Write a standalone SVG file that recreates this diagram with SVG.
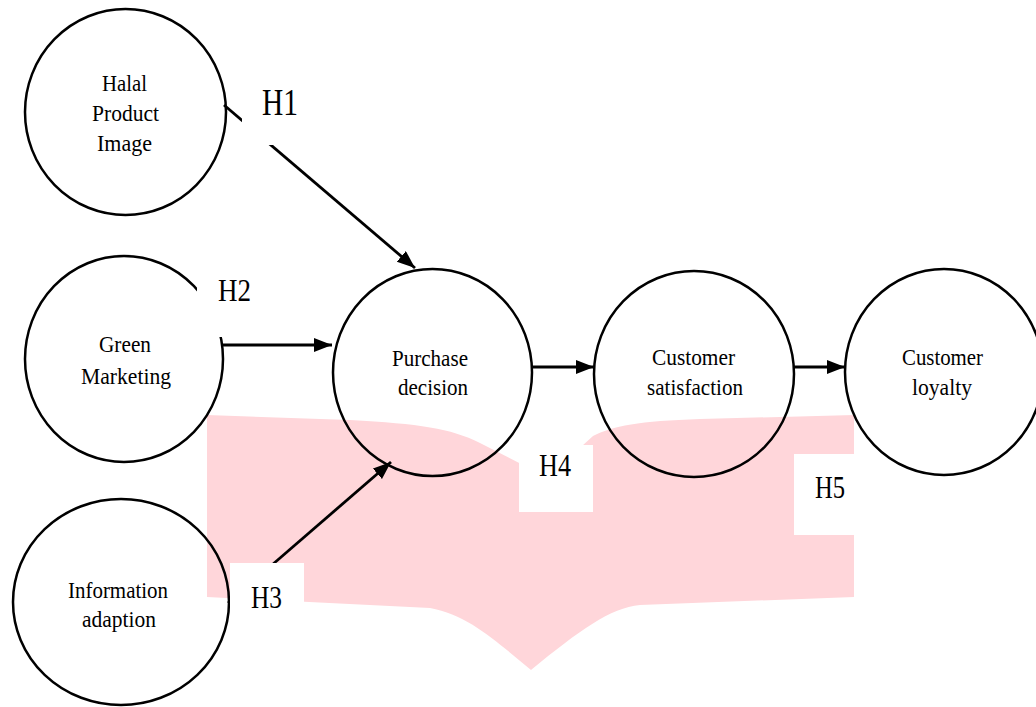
<svg xmlns="http://www.w3.org/2000/svg" width="1036" height="707" viewBox="0 0 1036 707">
<defs>
<marker id="ah" markerUnits="userSpaceOnUse" markerWidth="20" markerHeight="16" refX="18" refY="7" orient="auto">
<path d="M0,0 L18,7 L0,14 Z" fill="#000"/>
</marker>
<style>
.node{fill:none;stroke:#000;stroke-width:2.5}
.lbl{font-family:"Liberation Serif","Times New Roman",serif;font-size:24px;fill:#000;text-anchor:middle}
.h{font-family:"Liberation Serif","Times New Roman",serif;font-size:31px;fill:#000}
.edge{stroke:#000;stroke-width:2.8;fill:none}
.box{fill:#fff;stroke:none}
</style>
</defs>
<rect width="1036" height="707" fill="#fff"/>
<path id="band" d="M207,415 L350,420 C420,424 450,428 480,443 L525,466 L560,466 L593,436 C612,426 640,421 700,419 L854,415 L854,597 L640,605 C610,608 580,630 531,670 C500,645 470,615 430,608 L207,597 Z" fill="#FFD6DA"/>
<g id="node-halal"><ellipse class="node" cx="125.5" cy="112" rx="100.5" ry="103"/></g>
<g id="node-green"><ellipse class="node" cx="124" cy="359" rx="99" ry="103"/></g>
<g id="node-info"><ellipse class="node" cx="121" cy="602" rx="108" ry="103"/></g>
<g id="node-purchase"><ellipse class="node" cx="432.5" cy="372.5" rx="99.5" ry="103.5"/></g>
<g id="node-satisfaction"><ellipse class="node" cx="694" cy="374" rx="100" ry="103"/></g>
<g id="node-loyalty"><ellipse class="node" cx="944" cy="372" rx="99" ry="103"/></g>
<g id="connectors">
<line class="edge" x1="224" y1="105" x2="415" y2="268" marker-end="url(#ah)"/>
<line class="edge" x1="223" y1="345" x2="332" y2="345" marker-end="url(#ah)"/>
<line class="edge" x1="228" y1="603" x2="391" y2="462" marker-end="url(#ah)"/>
<line class="edge" x1="532" y1="367" x2="594" y2="367" marker-end="url(#ah)"/>
<line class="edge" x1="794" y1="367" x2="845" y2="367" marker-end="url(#ah)"/>
</g>
<g id="label-boxes">
<rect class="box" x="242" y="65" width="90" height="80"/>
<rect class="box" x="197" y="255" width="75" height="82"/>
<rect class="box" x="230" y="563" width="74" height="82"/>
<rect class="box" x="519" y="445" width="74" height="67"/>
<rect class="box" x="794" y="454" width="60" height="81"/>
</g>
<g id="node-texts">
<text class="lbl" x="124.5" y="91" textLength="45" lengthAdjust="spacingAndGlyphs">Halal</text>
<text class="lbl" x="125.5" y="121" textLength="67" lengthAdjust="spacingAndGlyphs">Product</text>
<text class="lbl" x="124.5" y="151" textLength="55" lengthAdjust="spacingAndGlyphs">Image</text>
<text class="lbl" x="125" y="352" textLength="52" lengthAdjust="spacingAndGlyphs">Green</text>
<text class="lbl" x="126" y="384" textLength="90" lengthAdjust="spacingAndGlyphs">Marketing</text>
<text class="lbl" x="118" y="598" textLength="100" lengthAdjust="spacingAndGlyphs">Information</text>
<text class="lbl" x="119" y="627" textLength="74" lengthAdjust="spacingAndGlyphs">adaption</text>
<text class="lbl" x="430" y="366" textLength="76" lengthAdjust="spacingAndGlyphs">Purchase</text>
<text class="lbl" x="433" y="395" textLength="70" lengthAdjust="spacingAndGlyphs">decision</text>
<text class="lbl" x="693.5" y="365" textLength="83" lengthAdjust="spacingAndGlyphs">Customer</text>
<text class="lbl" x="695" y="395" textLength="96" lengthAdjust="spacingAndGlyphs">satisfaction</text>
<text class="lbl" x="942.5" y="365" textLength="81" lengthAdjust="spacingAndGlyphs">Customer</text>
<text class="lbl" x="942" y="395" textLength="60" lengthAdjust="spacingAndGlyphs">loyalty</text>
</g>
<g id="hyp-labels">
<text class="h" x="262" y="115" style="font-size:37px" textLength="36" lengthAdjust="spacingAndGlyphs">H1</text>
<text class="h" x="218" y="301" textLength="33" lengthAdjust="spacingAndGlyphs">H2</text>
<text class="h" x="251" y="608" textLength="31" lengthAdjust="spacingAndGlyphs">H3</text>
<text class="h" x="539" y="476" textLength="32" lengthAdjust="spacingAndGlyphs">H4</text>
<text class="h" x="815" y="498" textLength="30" lengthAdjust="spacingAndGlyphs">H5</text>
</g>
</svg>
